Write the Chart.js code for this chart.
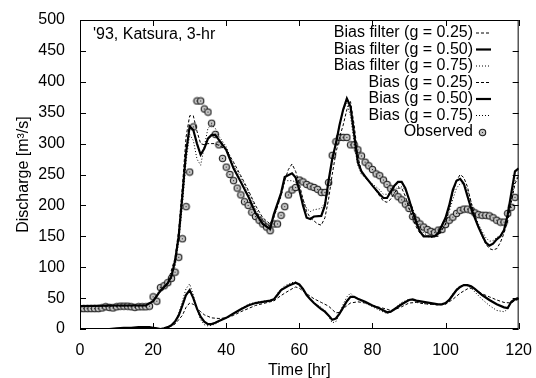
<!DOCTYPE html>
<html>
<head>
<meta charset="utf-8">
<script src="https://cdn.jsdelivr.net/npm/chart.js@4.4.1/dist/chart.umd.min.js"></script>
<style>
html,body{margin:0;padding:0;background:#fff;}
canvas{display:block;}
</style>
</head>
<body>
<canvas id="chart" width="536" height="378"></canvas>
<script>
// observed discharge, one value per hour from t = 0
var observed = [33,33,33,33,33,33,34,36,35,34,36,37,37,37,36,35,36,36,36,37,
  52,45,67,70,75,82,92,116,146,198,254,327,369,369,356,351,333,315,298,276,
  262,250,240,228,217,206,200,189,182,176,170,165,159,170,170,184,198,217,225,229,
  241,238,234,231,229,226,221,221,237,281,303,310,310,310,298,298,290,280,270,264,
  258,251,248,241,234,227,220,214,209,202,195,182,176,170,165,161,158,156,160,161,
  169,176,181,187,192,194,194,192,188,185,184,184,183,180,176,173,173,187,197,213];

// [hour, discharge] for each forecast line
var filter025 = [[0,37],[18,38],[20,45],[22,60],[24,75],[26,115],[27,160],[28,230],[29,310],[30,345],[31,345],[32,320],[33,300],[34,298],[35,300],[37,300],[38,297],[40,290],[42,270],[44,248],[46,225],[48,200],[50,180],[52,170],[53,180],[55,215],[56,240],[57,258],[58,267],[59,255],[60,235],[61,210],[62,190],[63,180],[64,175],[65,170],[66,168],[67,180],[68,210],[69,250],[70,285],[71,310],[72,330],[73,355],[74,368],[75,330],[76,280],[77,255],[78,245],[80,232],[82,215],[83,207],[84,205],[85,210],[86,220],[87,228],[88,228],[89,215],[90,195],[91,180],[92,165],[93,155],[94,152],[95,150],[96,148],[97,150],[98,150],[100,170],[101,195],[102,220],[103,240],[104,250],[105,245],[106,230],[107,205],[108,180],[109,165],[110,150],[111,138],[112,130],[113,128],[114,130],[115,140],[116,155],[117,175],[118,205],[119,235],[120,248]];
var filter050 = [[0,37],[10,38],[18,38],[20,45],[22,62],[24,74],[25,85],[26,110],[27,150],[28,215],[29,285],[30,328],[31,322],[32,300],[33,282],[34,292],[35,308],[36,314],[37,314],[38,306],[40,290],[42,260],[44,238],[46,215],[48,188],[50,170],[52,162],[53,185],[55,220],[56,246],[58,252],[59,245],[60,225],[61,200],[62,180],[63,178],[64,182],[66,183],[67,200],[68,240],[69,275],[70,300],[71,330],[72,355],[73,373],[74,360],[75,315],[76,270],[77,255],[78,247],[80,232],[82,218],[83,212],[84,212],[85,222],[86,232],[87,238],[88,238],[89,228],[90,210],[91,190],[92,172],[93,158],[94,150],[97,150],[98,155],[100,180],[101,200],[102,225],[103,240],[104,243],[105,235],[106,215],[107,195],[108,180],[109,165],[110,152],[111,140],[112,135],[113,138],[114,145],[115,150],[116,160],[117,185],[118,220],[119,255],[120,260]];
var filter075 = [[0,37],[18,38],[20,45],[22,65],[24,75],[26,100],[27,140],[28,200],[29,270],[30,315],[31,305],[32,275],[33,265],[34,295],[35,325],[36,330],[37,325],[38,312],[40,295],[42,265],[44,245],[46,222],[48,195],[50,175],[52,165],[53,180],[55,215],[56,240],[58,240],[59,238],[60,225],[61,210],[62,195],[63,190],[64,193],[66,195],[67,205],[68,235],[69,270],[70,300],[71,330],[72,355],[73,365],[74,345],[75,300],[76,265],[77,250],[78,245],[80,235],[82,225],[83,218],[84,218],[85,220],[86,225],[87,230],[88,230],[89,225],[90,210],[91,195],[92,178],[93,165],[94,155],[95,152],[96,150],[97,150],[98,152],[100,170],[101,190],[102,210],[103,228],[104,235],[105,235],[106,225],[107,205],[108,185],[109,170],[110,158],[111,148],[112,142],[113,143],[114,148],[115,152],[116,160],[117,180],[118,210],[119,240],[120,250]];
var bias025 = [[8,0],[16,2],[20,2],[22,0],[24,2],[26,8],[28,22],[29,35],[30,42],[31,40],[32,34],[33,28],[34,23],[36,18],[38,17],[40,18],[42,22],[44,28],[46,33],[48,38],[50,41],[52,44],[53,45],[54,50],[56,58],[58,65],[59,68],[60,66],[62,57],[64,49],[66,43],[68,37],[70,26],[71,27],[72,32],[73,38],[74,42],[76,44],[78,42],[80,38],[82,35],[84,32],[85,30],[86,31],[88,36],[90,42],[92,43],[94,41],[96,40],[98,39],[100,40],[102,48],[104,58],[106,65],[107,66],[108,64],[110,57],[112,52],[114,47],[116,43],[118,42],[119,46],[120,48]];
var bias050 = [[8,0],[10,1],[12,2],[14,2],[16,3],[19,3],[20,2],[21,1],[22,0],[23,1],[24,3],[25,6],[26,12],[27,22],[28,38],[29,55],[30,63],[31,50],[32,33],[33,20],[34,12],[35,8],[36,8],[37,10],[38,13],[40,18],[42,25],[44,32],[46,38],[48,42],[50,44],[52,46],[53,48],[54,55],[55,63],[57,70],[59,75],[60,72],[61,65],[62,55],[63,48],[64,42],[65,37],[66,32],[67,28],[68,22],[69,15],[70,17],[71,25],[72,35],[73,45],[74,52],[75,52],[76,49],[78,44],[80,38],[82,33],[84,27],[85,28],[86,32],[88,40],[90,47],[91,48],[92,46],[94,44],[96,42],[98,40],[99,40],[100,42],[101,47],[102,55],[103,63],[104,68],[105,71],[106,71],[107,69],[108,65],[110,55],[112,47],[114,40],[116,35],[117,34],[118,44],[119,48],[120,50]];
var bias075 = [[8,0],[16,2],[20,2],[22,0],[24,2],[26,10],[27,25],[28,45],[29,65],[30,73],[31,55],[32,32],[33,15],[34,7],[35,5],[36,6],[37,8],[38,12],[40,18],[42,25],[44,33],[46,40],[48,43],[50,45],[52,46],[53,47],[54,58],[56,70],[58,75],[59,76],[60,70],[62,55],[64,42],[66,35],[67,30],[68,20],[69,10],[70,12],[71,25],[72,40],[73,52],[74,58],[75,52],[76,48],[78,42],[80,36],[82,30],[84,25],[85,27],[86,33],[88,43],[90,48],[91,47],[92,44],[94,41],[96,40],[98,39],[100,43],[101,48],[102,57],[103,65],[104,70],[105,71],[106,70],[107,66],[108,60],[110,48],[112,38],[114,30],[116,28],[117,32],[118,45],[119,50],[120,50]];

var seriesNames = ['Bias filter (g = 0.25)','Bias filter (g = 0.50)','Bias filter (g = 0.75)',
  'Bias (g = 0.25)','Bias (g = 0.50)','Bias (g = 0.75)','Observed'];
var caption = "'93, Katsura, 3-hr";

var FONT = "'Liberation Sans', Arial, sans-serif";
Chart.defaults.font.family = FONT;
Chart.defaults.font.size = 16;
Chart.defaults.color = '#000';

// gnuplot-ish circle-with-dot marker
var marker = document.createElement('canvas');
marker.width = 9; marker.height = 9;
(function() {
  var m = marker.getContext('2d');
  m.beginPath();
  m.arc(4.5, 4.5, 3.2, 0, Math.PI * 2);
  m.fillStyle = '#c4c4c4';
  m.fill();
  m.strokeStyle = '#1a1a1a';
  m.lineWidth = 1.1;
  m.stroke();
  m.fillStyle = '#222';
  m.fillRect(4, 4, 1, 1);
})();

function pts(arr) {
  return arr.map(function(p) { return {x: p[0], y: p[1]}; });
}
function lineSet(label, arr, width, dash) {
  return {
    label: label, data: pts(arr), borderColor: '#000', borderWidth: width,
    borderDash: dash, pointRadius: 0, fill: false, tension: 0
  };
}

// frame with inward ticks on all sides, caption and key, like gnuplot
var gnuFrame = {
  id: 'gnuFrame',
  afterDatasetsDraw: function(c) {
    var ctx = c.ctx, a = c.chartArea, xs = c.scales.x, ys = c.scales.y;
    ctx.save();
    ctx.strokeStyle = '#000';
    ctx.lineWidth = 1;
    ctx.setLineDash([]);
    ctx.strokeRect(a.left + 0.5, a.top + 0.5, a.right - a.left - 1, a.bottom - a.top - 1);
    var tl = 6;
    ctx.beginPath();
    xs.ticks.forEach(function(t) {
      var px = Math.round(xs.getPixelForValue(t.value)) + 0.5;
      ctx.moveTo(px, a.bottom); ctx.lineTo(px, a.bottom - tl);
      ctx.moveTo(px, a.top); ctx.lineTo(px, a.top + tl);
    });
    ys.ticks.forEach(function(t) {
      var py = Math.round(ys.getPixelForValue(t.value)) + 0.5;
      ctx.moveTo(a.left, py); ctx.lineTo(a.left + tl, py);
      ctx.moveTo(a.right, py); ctx.lineTo(a.right - tl, py);
    });
    ctx.stroke();

    ctx.font = '16px ' + FONT;
    ctx.fillStyle = '#000';
    ctx.textBaseline = 'middle';
    ctx.textAlign = 'left';
    ctx.fillText(caption, a.left + 13, a.top + 15);

    // key
    ctx.textAlign = 'right';
    var kx = 473, ky = 33, step = 16.5;
    c.data.datasets.forEach(function(ds, i) {
      var y = ky + i * step;
      ctx.fillText(ds.label, kx, y);
      if (ds.showLine === false) {
        ctx.drawImage(marker, 478, Math.round(y) - 4);
      } else {
        ctx.beginPath();
        ctx.strokeStyle = '#000';
        ctx.lineWidth = ds.borderWidth;
        ctx.setLineDash(ds.borderDash || []);
        ctx.moveTo(476, y); ctx.lineTo(491, y);
        ctx.stroke();
      }
    });
    ctx.restore();
  }
};

new Chart(document.getElementById('chart'), {
  type: 'line',
  data: {
    datasets: [
      lineSet(seriesNames[0], filter025, 1, [3, 2]),
      lineSet(seriesNames[1], filter050, 2.2, []),
      lineSet(seriesNames[2], filter075, 1, [1, 2]),
      lineSet(seriesNames[3], bias025, 1, [3, 2]),
      lineSet(seriesNames[4], bias050, 2.2, []),
      lineSet(seriesNames[5], bias075, 1, [1, 2]),
      {
        label: seriesNames[6],
        data: observed.map(function(v, i) { return {x: i, y: v}; }),
        showLine: false, pointStyle: marker, pointRadius: 4,
        borderColor: '#1a1a1a', backgroundColor: '#c4c4c4'
      }
    ]
  },
  options: {
    responsive: false,
    animation: false,
    layout: {padding: {top: 20, right: 16, left: 0, bottom: 0}},
    plugins: {legend: {display: false}, tooltip: {enabled: false}},
    scales: {
      x: {
        type: 'linear', min: 0, max: 120,
        ticks: {stepSize: 20, padding: 4, maxRotation: 0},
        grid: {display: false},
        border: {display: false},
        title: {display: true, text: 'Time [hr]', padding: {top: 0, bottom: -2}},
        afterFit: function(s) { s.height = 49; }
      },
      y: {
        min: 0, max: 500,
        ticks: {stepSize: 50, padding: 7},
        grid: {display: false},
        border: {display: false},
        title: {display: true, text: 'Discharge [m³/s]', padding: {top: 14, bottom: 0}},
        afterFit: function(s) { s.width = 80; }
      }
    }
  },
  plugins: [gnuFrame]
});
</script>
</body>
</html>
